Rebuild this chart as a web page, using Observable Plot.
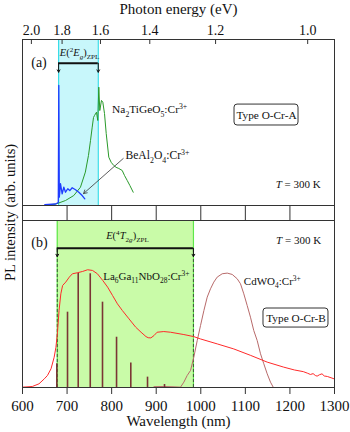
<!DOCTYPE html>
<html><head><meta charset="utf-8">
<script src="https://cdn.jsdelivr.net/npm/d3@7"></script>
<script src="https://cdn.jsdelivr.net/npm/@observablehq/plot@0.6"></script>
<style>
body{margin:0;background:#fff}
#chart{position:relative;width:350px;height:432px}
#chart svg{position:absolute;left:0;overflow:visible;background:transparent}
#chart svg text{font-family:"Liberation Serif","Times New Roman",serif}
</style>
</head><body><div id="chart"></div>
<script>
// ---------- data ----------
const HC = 1239.84;
const energyTicks = [2.0, 1.8, 1.6, 1.4, 1.2, 1.0];
const wavelengthTicks = [600, 700, 800, 900, 1000, 1100, 1200, 1300];

// Panel (a) Na2TiGeO5:Cr3+
const naNm = [660, 674, 696.5, 715, 730, 741, 748, 752.6, 756.4, 759.3, 761.5, 766, 768.9, 771.2, 773.4, 777.2, 780.2, 784, 787.8, 793.6, 799, 804.8, 810, 816, 823.7, 829, 834.9, 841, 848.4];
const naI  = [0.5, 0.8, 3.0, 6.0, 11.0, 20.1, 30.1, 39.2, 47.2, 53, 54.2, 56.2, 51.2, 71.3, 57.2, 63.3, 62.2, 55.4, 43.4, 29.1, 26, 24.1, 23, 22.3, 21.1, 18, 15.1, 12, 8.0];
// Panel (a) BeAl2O4:Cr3+
const beNm = [650, 674, 680.3, 681.4, 682.6, 685.3, 689, 692.7, 696.5, 701.6, 706.1, 711.5, 718.9, 726.3, 733.9, 739.8];
const beI  = [0.5, 0.9, 1.8, 72.3, 5.0, 13.1, 7.0, 11.0, 8.0, 10.1, 9.0, 10.7, 9.5, 8.0, 6.0, 4.0];

// Panel (b) La6Ga11NbO28:Cr3+
const laNm = [600, 622, 637, 649, 656, 664, 671, 675, 678.5, 682, 686, 690, 697, 705, 712, 723, 735, 746, 757, 768, 780, 791, 802, 813, 824, 839, 854, 866, 877, 882, 888, 895, 902, 917, 932, 962, 984, 999, 1037, 1074, 1112, 1149, 1186, 1210, 1230, 1239, 1246, 1252, 1257, 1261, 1266, 1272, 1277, 1284, 1299];
const laI  = [0.2, 0.6, 2.2, 5.2, 7.2, 11.2, 18.1, 24.1, 33.1, 46.1, 56.1, 61.1, 63.1, 66.1, 68.1, 68.7, 69.5, 70.5, 70.1, 68.1, 64.1, 60.1, 55.1, 50.1, 46.1, 41.1, 36.1, 33.1, 30.5, 29.8, 29.7, 31.1, 33.1, 33.5, 33.1, 31.7, 30.5, 29.1, 26.1, 23.1, 19.2, 15.2, 12.2, 10.5, 9.5, 8.6, 7.8, 8.3, 7.2, 6.8, 7.6, 8.2, 6.9, 6.6, 5.2];
// Panel (b) stick lines
const stickNm = [677, 701, 725, 752, 779.5, 811, 843, 880.5, 918.6];
const stickI  = [14.2, 45.1, 68.4, 68.1, 51.1, 30.1, 14.6, 6.2, 1.8];
// Panel (b) CdWO4:Cr3+
const cdNm = [895, 917, 940, 954.5, 962, 969.5, 977, 984.3, 992, 999.4, 1007, 1014.4, 1021.8, 1029.2, 1036.8, 1048, 1059.3, 1070.5, 1081.7, 1089.1, 1096.5, 1104.1, 1111.5, 1118.9, 1126.6, 1134, 1141.4, 1149, 1156.4, 1162.5];
const cdI  = [0.5, 0.6, 0.4, 0.2, 3.2, 7.2, 10.2, 18.1, 28.1, 37.1, 46.1, 54.1, 59.1, 63.1, 66.1, 68.1, 68.5, 67.7, 65.1, 62.1, 56.1, 49.1, 42.1, 34.1, 28.1, 20.2, 14.2, 8.2, 3.2, 0.2];

// ZPL bands (nm) and arrow levels (arb. units)
const bandA = {x1: 681, x2: 770, level: 85.7, tip: 80.3};
const bandB = {x1: 678, x2: 983.5, level: 83.4, tip: 78.4};

// annotations
const labelsA = [
  {text: "(a)", x: 637, y: 86.3, size: 14, anchor: "middle"},
  {text: "*E*(^{2}*E*_{*g*})_{ZPL}", x: 728, y: 92, size: 10.5, anchor: "middle"},
  {text: "Na_{2}TiGeO_{5}:Cr^{3+}", x: 801, y: 57.8, size: 11.4, anchor: "start"},
  {text: "BeAl_{2}O_{4}:Cr^{3+}", x: 831, y: 30.1, size: 11.6, anchor: "start"},
  {text: "*T* = 300 K", x: 1269, y: 12.7, size: 11, anchor: "end"},
  {text: "Type O-Cr-A", x: 1147.4, y: 54.5, size: 11.3, anchor: "middle"}
];
const boxA = {x1: 1075.7, x2: 1219.3, y1: 48.2, y2: 60.8};
const pointerA = {x1: 826, y1: 28.3, x2: 737, y2: 7.2};

const labelsB = [
  {text: "(b)", x: 638, y: 86.8, size: 14, anchor: "middle"},
  {text: "*E*(^{4}*T*_{2*g*})_{ZPL}", x: 835.6, y: 91, size: 10.5, anchor: "middle"},
  {text: "La_{6}Ga_{11}NbO_{28}:Cr^{3+}", x: 781, y: 66.5, size: 11, anchor: "start"},
  {text: "CdWO_{4}:Cr^{3+}", x: 1096.6, y: 63.5, size: 11, anchor: "start"},
  {text: "*T* = 300 K", x: 1270, y: 88, size: 11, anchor: "end"},
  {text: "Type O-Cr-B", x: 1213.6, y: 41.6, size: 11.3, anchor: "middle"}
];
const boxB = {x1: 1140.7, x2: 1286.5, y1: 35.9, y2: 47.3};

// ---------- helpers ----------
const FONT = '"Liberation Serif", "Times New Roman", serif';
const zip = (xs, ys) => xs.map((x, i) => ({nm: x, v: ys[i]}));
const textMarks = (labels) => labels.map(d => Plot.text([d], {
  x: "x", y: "y", text: "text", fontSize: d.size, textAnchor: d.anchor, lineAnchor: "middle", fill: "#111"
}));
const downArrows = (b) => [b.x1, b.x2].map(x => ({x, y1: b.level, y2: b.tip}));

const CYAN_FILL = "#c8f7fb", CYAN_EDGE = "#38dde8";
const GREEN_FILL = "#c9fba8", GREEN_EDGE = "#5fe84a";

const topPlot = Plot.plot({
  width: 350, height: 205, marginTop: 39, marginBottom: 0, marginLeft: 22, marginRight: 16,
  x: {domain: [600, 1300]},
  y: {domain: [0, 100], axis: null},
  style: {fontFamily: FONT, fontSize: "11px", color: "#111"},
  marks: [
    Plot.rect([bandA], {x1: "x1", x2: "x2", fill: CYAN_FILL}),
    Plot.ruleX([bandA.x1, bandA.x2], {stroke: CYAN_EDGE, strokeWidth: 1.2}),
    Plot.line(zip(naNm, naI), {x: "nm", y: "v", stroke: "#2a9a2a", strokeWidth: 1}),
    Plot.line(zip(beNm, beI), {x: "nm", y: "v", stroke: "#1f3cff", strokeWidth: 1.3}),
    Plot.ruleY([bandA], {y: "level", x1: "x1", x2: "x2", stroke: "#111", strokeWidth: 2}),
    Plot.arrow(downArrows(bandA), {x1: "x", x2: "x", y1: "y1", y2: "y2", stroke: "#111", strokeWidth: 1, headLength: 4}),
    Plot.arrow([pointerA], {x1: "x1", y1: "y1", x2: "x2", y2: "y2", stroke: "#333", strokeWidth: 0.8, headLength: 7}),
    Plot.rect([boxA], {x1: "x1", x2: "x2", y1: "y1", y2: "y2", fill: "white", stroke: "#333", rx: 3}),
    ...textMarks(labelsA),
    Plot.frame({stroke: "#333"}),
    Plot.tickX(energyTicks.map(e => HC / e), {x: d => d, stroke: "#333", insetBottom: 161}),
    Plot.axisX({anchor: "top", ticks: energyTicks.map(e => HC / e), tickFormat: d => (HC / d).toFixed(1),
      tickSize: 0, tickPadding: 5, fontSize: 14, fontFamily: FONT, label: null}),
    Plot.text(["Photon energy (eV)"], {frameAnchor: "top", dy: -30, fontSize: 15, lineAnchor: "middle", textAnchor: "middle", fill: "#111"})
  ]
});

const bottomPlot = Plot.plot({
  width: 350, height: 227, marginTop: 15, marginBottom: 45, marginLeft: 22, marginRight: 16,
  x: {domain: [600, 1300]},
  y: {domain: [0, 100], axis: null},
  style: {fontFamily: FONT, fontSize: "11px", color: "#111"},
  marks: [
    Plot.rect([bandB], {x1: "x1", x2: "x2", fill: GREEN_FILL}),
    Plot.ruleX([bandB.x1, bandB.x2], {stroke: GREEN_EDGE, strokeWidth: 1.2}),
    Plot.ruleX([bandB.x1, bandB.x2], {x: d => d, y1: 0, y2: bandB.level, stroke: "#333", strokeWidth: 0.8, strokeDasharray: "3,2"}),
    Plot.line(zip(cdNm, cdI), {x: "nm", y: "v", stroke: "#b86a6a", strokeWidth: 1}),
    Plot.ruleX(zip(stickNm, stickI), {x: "nm", y1: 0, y2: "v", stroke: "#7b3535", strokeWidth: 1.6}),
    Plot.line(zip(laNm, laI), {x: "nm", y: "v", stroke: "#ff2a2a", strokeWidth: 1}),
    Plot.ruleY([bandB], {y: "level", x1: "x1", x2: "x2", stroke: "#111", strokeWidth: 2}),
    Plot.arrow(downArrows(bandB), {x1: "x", x2: "x", y1: "y1", y2: "y2", stroke: "#111", strokeWidth: 1, headLength: 4}),
    Plot.rect([boxB], {x1: "x1", x2: "x2", y1: "y1", y2: "y2", fill: "white", stroke: "#333", rx: 3}),
    ...textMarks(labelsB),
    Plot.frame({stroke: "#333"}),
    Plot.axisX({anchor: "top", ticks: wavelengthTicks, tickSize: 15, tickFormat: () => "", label: null, stroke: "#333"}),
    Plot.axisX({anchor: "bottom", ticks: wavelengthTicks, tickSize: 7, tickPadding: 6, fontSize: 15, fontFamily: FONT,
      tickFormat: d => String(d), label: null, stroke: "#333"}),
    Plot.text(["Wavelength (nm)"], {frameAnchor: "bottom", dy: 34, fontSize: 15, lineAnchor: "middle", textAnchor: "middle", fill: "#111"}),
    Plot.text(["PL intensity (arb. units)"], {frameAnchor: "top-left", dx: -12, dy: -8, rotate: -90, fontSize: 14.5, lineAnchor: "middle", textAnchor: "middle", fill: "#111"})
  ]
});

const chart = document.getElementById("chart");
topPlot.style.top = "0px";
bottomPlot.style.top = "205px";
chart.appendChild(topPlot);
chart.appendChild(bottomPlot);

// ---------- rich text (sub/superscripts, italics) ----------
function parseRich(s) {
  const segs = []; let italic = false, shift = 0, buf = "";
  const flush = () => { if (buf) { segs.push({text: buf, italic, shift}); buf = ""; } };
  for (let i = 0; i < s.length; i++) {
    const c = s[i];
    if ((c === "_" || c === "^") && s[i + 1] === "{") { flush(); shift = c === "_" ? 1 : -1; i++; continue; }
    if (c === "}" && shift !== 0) { flush(); shift = 0; continue; }
    if (c === "*") { flush(); italic = !italic; continue; }
    buf += c;
  }
  flush();
  return segs;
}
function richify(svg) {
  svg.querySelectorAll("text").forEach(t => {
    const s = t.textContent;
    if (!/[_^*]/.test(s)) return;
    const base = parseFloat(getComputedStyle(t).fontSize) || 11;
    while (t.firstChild) t.removeChild(t.firstChild);
    let cur = 0, first = true;
    for (const seg of parseRich(s)) {
      const ts = document.createElementNS("http://www.w3.org/2000/svg", "tspan");
      const target = seg.shift === 1 ? base * 0.3 : seg.shift === -1 ? -base * 0.4 : 0;
      if (!(first && target === 0)) ts.setAttribute("dy", (target - cur).toFixed(2));
      cur = target; first = false;
      if (seg.shift) ts.setAttribute("font-size", (base * 0.68).toFixed(2));
      if (seg.italic) ts.setAttribute("font-style", "italic");
      ts.textContent = seg.text;
      t.appendChild(ts);
    }
  });
}
richify(topPlot);
richify(bottomPlot);
</script></body></html>
